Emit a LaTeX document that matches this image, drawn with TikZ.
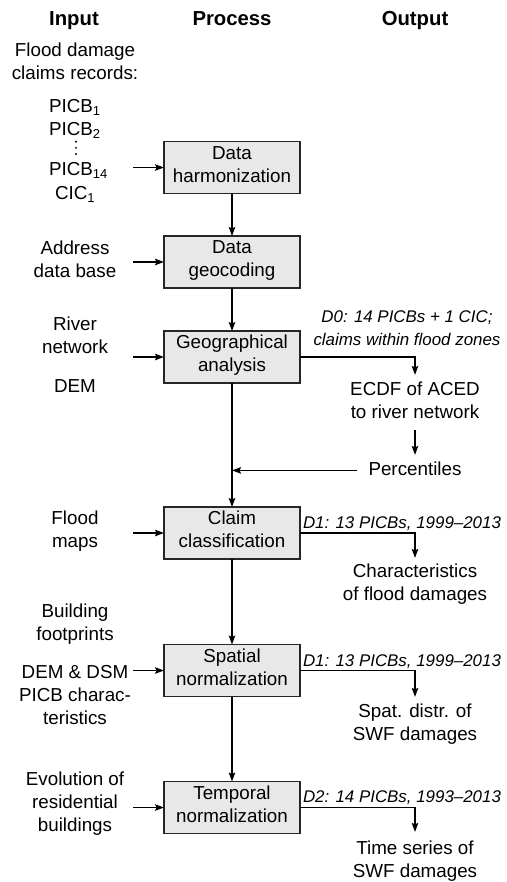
\documentclass[tikz,border=0pt]{standalone}
\usepackage{fontspec}
\setmainfont{Liberation Sans}
\usetikzlibrary{arrows.meta}
\newcommand{\mysub}[1]{\raisebox{-3pt}{\fontsize{13}{13}\selectfont #1}}
\begin{document}
\begin{tikzpicture}[x=1pt,y=-1pt,
  every node/.style={inner sep=0pt, outer sep=0pt},
  txt/.style={font=\fontsize{18.8}{23}\selectfont, align=center,
    execute at begin node=\strut, execute at end node=\strut},
  head/.style={font=\fontsize{20.3}{24}\selectfont\bfseries, anchor=base},
  lbl/.style={font=\fontsize{16.9}{23.3}\selectfont\itshape},
  box/.style={txt, draw=black!85, fill=gray!18, line width=1.2pt,
    minimum width=136pt, minimum height=52pt},
  inp/.style={txt, anchor=north, minimum width=116pt},
  outp/.style={txt, anchor=north},
  item/.style={font=\fontsize{18.8}{23}\selectfont, anchor=base west},
  arr/.style={draw=black, line width=1.2pt,
    -{Stealth[length=9pt,width=6.5pt,inset=1.5pt]}},
  ln/.style={draw=black, line width=1.2pt}]
\useasboundingbox (0,0) rectangle (506,882);

% headers
\node[head] (hin) at (74,26) {Input};
\node[head] (hpr) at (232,26) {Process};
\node[head] (hout) at (415,26) {Output};

% process boxes
\node[box] (b1) at (232,167.5) {Data\\harmonization};
\node[box] (b2) at (232,262) {Data\\geocoding};
\node[box] (b3) at (232,357) {Geographical\\analysis};
\node[box] (b4) at (232,533) {Claim\\classification};
\node[box] (b5) at (232,670.5) {Spatial\\normalization};
\node[box] (b6) at (232,807.5) {Temporal\\normalization};

% inputs
\node[inp] (flood) at (75,42.9) {Flood damage\\claims records:};
\node[item] (p1) at (49,113) {PICB\mysub{1}};
\node[item] (p2) at (49,136) {PICB\mysub{2}};
\fill (76,141.7) circle (1.1) (76,147.9) circle (1.1) (76,154.1) circle (1.1);
\node[item, text width=84pt, align=left] (p14) at (49,176) {PICB\mysub{14}};
\node[item] (cic) at (55,200) {CIC\mysub{1}};
\node[inp] (addr) at (75,240.6) {Address\\data base};
\node[inp] (river) at (75,317.2) {River\\network};
\node[inp] (dem) at (75,376.6) {DEM};
\node[inp] (fmaps) at (75,510.6) {Flood\\maps};
\node[inp] (bfoot) at (75,603.9) {Building\\footprints};
\node[inp] (dsm) at (75,662.2) {DEM \& DSM};
\node[inp] (picbc) at (75,688.2) {PICB charac-\\teristics};
\node[inp] (evol) at (75,772.2) {Evolution of\\residential\\buildings};

% outputs
\node[outp] (ecdf) at (415,381.9) {ECDF of ACED\\to river network};
\node[outp] (pct) at (415,458.9) {Percentiles};
\node[outp] (charac) at (415,563.9) {Characteristics\\of flood damages};
\node[outp] (spat) at (415,703.9) {Spat. distr. of\\SWF damages};
\node[outp] (tser) at (415,840.9) {Time series of\\SWF damages};

% dataset labels
\node[lbl, align=center, anchor=north,
  execute at begin node=\strut] (d0) at (407,310.4)
  {D0: 14 PICBs + 1 CIC;\\claims within flood zones};
\node[lbl, anchor=base west] (d1a) at (303,528.3) {D1: 13 PICBs, 1999–2013};
\node[lbl, anchor=base west] (d1b) at (303,666.7) {D1: 13 PICBs, 1999–2013};
\node[lbl, anchor=base west] (d2) at (303,802.7) {D2: 14 PICBs, 1993–2013};

% input arrows
\draw[arr] (p14.east |- b1.west) -- (b1.west);
\draw[arr] (addr.east |- b2.west) -- (b2.west);
\draw[arr] (river.east |- b3.west) -- (b3.west);
\draw[arr] (fmaps.east |- b4.west) -- (b4.west);
\draw[arr] (dsm.east |- b5.west) -- (b5.west);
\draw[arr] (evol.east |- b6.west) -- (b6.west);

% process chain
\draw[arr] (b1.south) -- (b2.north);
\draw[arr] (b2.south) -- (b3.north);
\draw[arr] (b3.south) -- (b4.north);
\draw[arr] (b4.south) -- (b5.north);
\draw[arr] (b5.south) -- (b6.north);

% outputs
\draw[arr, shorten >=7pt] (b3.east) -| (ecdf.north);
\draw[arr, shorten <=5pt, shorten >=4pt] (ecdf.south) -- (pct.north);
\draw[arr, shorten <=11.5pt] (pct.west) -- (pct.west -| b3.south);
\draw[arr, shorten >=6pt] (b4.east) -| (charac.north);
\draw[arr, shorten >=7pt] (b5.east) -| (spat.north);
\draw[arr, shorten >=9pt] (b6.east) -| (tser.north);
\end{tikzpicture}
\end{document}
